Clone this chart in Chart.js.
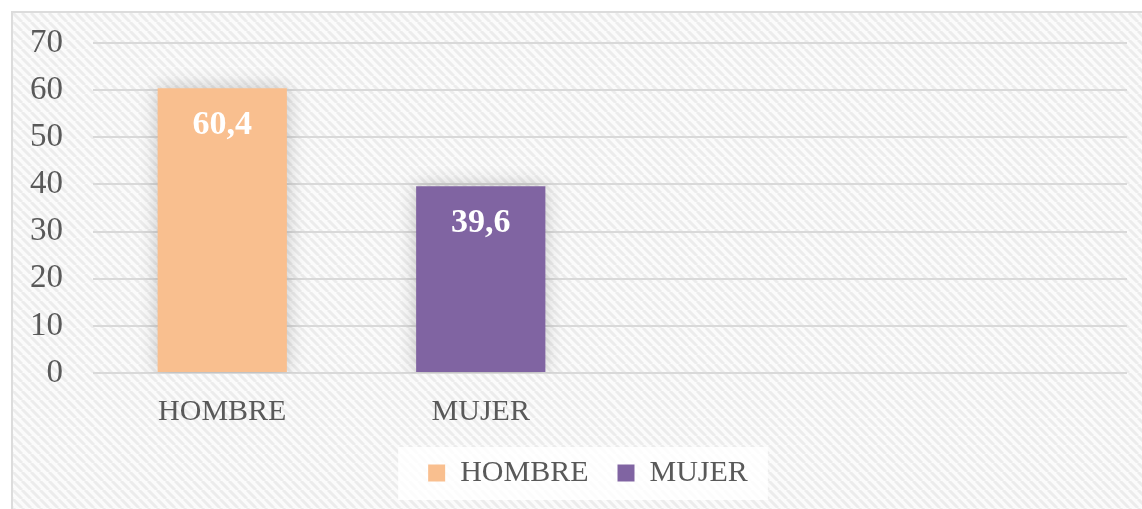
<!DOCTYPE html>
<html>
<head>
<meta charset="utf-8">
<script src="https://cdn.jsdelivr.net/npm/chart.js@4/dist/chart.umd.min.js"></script>
<style>
  html, body { margin: 0; padding: 0; background: #fff; }
  body { width: 1142px; height: 509px; overflow: hidden; position: relative; }
  .frame {
    position: absolute; left: 11px; top: 11px; width: 1131px; height: 498px;
    border-left: 2px solid #dcdcdc; border-top: 2px solid #dcdcdc; box-sizing: border-box;
  }
  canvas { display: block; }
</style>
</head>
<body>
<div class="frame"><canvas id="bar-chart" width="1129" height="496"></canvas></div>
<script>
  // data
  const categories = ["HOMBRE", "MUJER", "", ""];
  const seriesNames = ["HOMBRE", "MUJER"];
  const hombreValues = [60.4, null, null, null];
  const mujerValues = [null, 39.6, null, null];
  const yTicks = [0, 10, 20, 30, 40, 50, 60, 70];

  const FONT = "'Liberation Serif', 'DejaVu Serif', serif";
  const TEXT = "#595959";

  // diagonal stripe background like the excel texture
  function makePattern(ctx) {
    const c = document.createElement("canvas");
    c.width = 9; c.height = 9;
    const p = c.getContext("2d");
    p.fillStyle = "#fbfbfb";
    p.fillRect(0, 0, 9, 9);
    p.strokeStyle = "#ececec";
    p.lineWidth = 3;
    p.beginPath();
    for (let k = -9; k <= 18; k += 9) {
      p.moveTo(k, 0);
      p.lineTo(k + 9, 9);
    }
    p.stroke();
    return ctx.createPattern(c, "repeat");
  }

  const bgPlugin = {
    id: "bg",
    afterLayout(chart) {
      // legend sits a bit right of the canvas centre in the original
      const lg = chart.legend;
      if (lg) {
        lg.left += 18;
        lg.right += 18;
      }
    },
    beforeDraw(chart) {
      const ctx = chart.ctx;
      ctx.save();
      ctx.fillStyle = makePattern(ctx);
      ctx.fillRect(0, 0, chart.width, chart.height);
      // soft white box behind legend
      const lg = chart.legend;
      if (lg && lg.legendHitBoxes.length) {
        const boxes = lg.legendHitBoxes;
        const last = boxes[boxes.length - 1];
        const l = boxes[0].left - 30;
        const r = last.left + last.width + 20;
        const cy = boxes[0].top + boxes[0].height / 2;
        ctx.fillStyle = "rgba(255,255,255,0.85)";
        ctx.fillRect(l, cy - 26, r - l, 53);
      }
      ctx.restore();
    },
  };

  const shadowPlugin = {
    id: "barShadow",
    beforeDatasetsDraw(chart) {
      const ctx = chart.ctx;
      ctx.save();
      ctx.shadowColor = "rgba(0,0,0,0.22)";
      ctx.shadowBlur = 18;
      ctx.shadowOffsetX = 0;
      ctx.shadowOffsetY = 0;
    },
    afterDatasetsDraw(chart) {
      chart.ctx.restore();
    },
  };

  const labelPlugin = {
    id: "valueLabels",
    afterDatasetsDraw(chart) {
      const ctx = chart.ctx;
      ctx.save();
      ctx.shadowColor = "transparent";
      ctx.fillStyle = "#ffffff";
      ctx.font = "bold 34px " + FONT;
      ctx.textAlign = "center";
      ctx.textBaseline = "middle";
      chart.data.datasets.forEach((ds, i) => {
        const meta = chart.getDatasetMeta(i);
        meta.data.forEach((bar, j) => {
          const v = ds.data[j];
          if (v === null || v === undefined) return;
          ctx.fillText(String(v).replace(".", ","), bar.x, bar.y + 37);
        });
      });
      ctx.restore();
    },
  };

  const ctx = document.getElementById("bar-chart");
  new Chart(ctx, {
    type: "bar",
    data: {
      labels: categories,
      datasets: [
        {
          label: seriesNames[0],
          data: hombreValues,
          backgroundColor: "#F9BF8F",
          borderWidth: 0,
        },
        {
          label: seriesNames[1],
          data: mujerValues,
          backgroundColor: "#8064A2",
          borderWidth: 0,
        },
      ],
    },
    options: {
      responsive: false,
      animation: false,
      skipNull: true,
      barPercentage: 1,
      categoryPercentage: 0.5,
      layout: {
        padding: { top: 30, right: 15, left: 0, bottom: 11 },
      },
      scales: {
        x: {
          grid: { display: false, drawTicks: false },
          border: { display: false },
          ticks: {
            color: TEXT,
            font: { family: FONT, size: 30 },
            padding: 21,
            maxRotation: 0,
          },
          afterFit(axis) {
            axis.paddingLeft = 0;
            axis.paddingRight = 0;
            axis.height = 56;
          },
        },
        y: {
          min: 0,
          max: 70,
          afterBuildTicks(axis) {
            axis.ticks = yTicks.map((v) => ({ value: v }));
          },
          grid: { color: "#d9d9d9", lineWidth: 2, drawTicks: false },
          border: { display: false },
          ticks: {
            color: TEXT,
            font: { family: FONT, size: 33 },
            padding: 30,
          },
          afterFit(axis) {
            axis.paddingTop = 0;
            axis.paddingBottom = 0;
            axis.width = 80;
          },
        },
      },
      plugins: {
        legend: {
          position: "bottom",
          labels: {
            color: TEXT,
            font: { family: FONT, size: 30 },
            boxWidth: 17,
            boxHeight: 17,
            padding: 29,
          },
        },
        tooltip: { enabled: false },
      },
    },
    plugins: [bgPlugin, shadowPlugin, labelPlugin],
  });
</script>
</body>
</html>
